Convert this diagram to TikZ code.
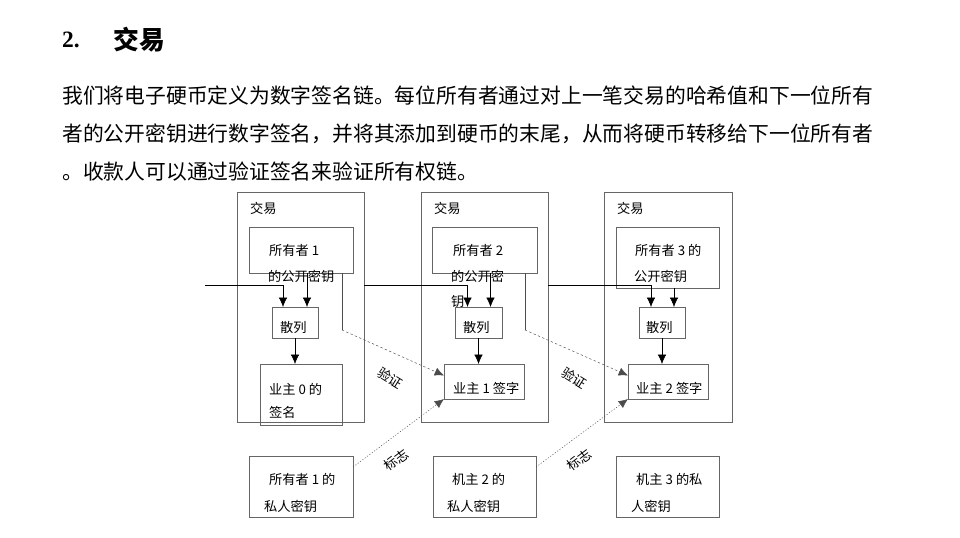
\documentclass[tikz,border=0pt]{standalone}
\usepackage{fontspec}
\setmainfont{Noto Sans CJK SC}
\newfontfamily\headnum{Liberation Serif}
\usetikzlibrary{arrows.meta,calc}

\begin{document}
\begin{tikzpicture}[x=0.03cm, y=-0.03cm, >={Latex[length=0.28cm,width=0.25cm]},
  box/.style={draw=black!60, rectangle, inner sep=0pt, outer sep=0pt},
  txt/.style={anchor=west, inner sep=0pt, font=\fontsize{11.3}{13}\selectfont},
  para/.style={anchor=west, inner sep=0pt, font=\fontsize{17.75}{20}\selectfont},
  verify/.style={draw=black!70, dash pattern=on 2pt off 2pt},
  sign/.style={draw=black!70, dash pattern=on 1pt off 1.5pt}]
\useasboundingbox (0,0) rectangle (960,538);
% heading and text
\node[anchor=west, inner sep=0pt, font=\headnum\bfseries\fontsize{20}{24}\selectfont] (secnum) at (62,40) {2.};
\node[anchor=west, inner sep=0pt, font=\bfseries\fontsize{22}{26}\selectfont] (sectitle) at (113,40) {交易};
\node[para] (line1) at (62,96) {我们将电子硬币定义为数字签名链。每位所有者通过对上一笔交易的哈希值和下一位所有};
\node[para] (line2) at (62,134) {者的公开密钥进行数字签名，并将其添加到硬币的末尾，从而将硬币转移给下一位所有者};
\node[para] (line3) at (62,172) {。收款人可以通过验证签名来验证所有权链。};
% transactions
\node[box, minimum width=3.81cm, minimum height=6.9cm] (t1) at (300.5,307) {};
\node[box, minimum width=3.81cm, minimum height=6.9cm] (t2) at (484.5,307) {};
\node[box, minimum width=3.84cm, minimum height=6.9cm] (t3) at (668,307) {};
\node[txt] (tx1) at (250,208) {交易};
\node[txt] (tx2) at (434,208) {交易};
\node[txt] (tx3) at (617,208) {交易};
% public keys
\node[box, minimum width=3.12cm, minimum height=1.38cm] (pk1) at (301,250) {};
\node[box, minimum width=3.15cm, minimum height=1.38cm] (pk2) at (484.5,250) {};
\node[box, minimum width=3.09cm, minimum height=1.83cm] (pk3) at (667.5,257.5) {};
\node[txt] (pk1a) at (269,250) {所有者\ 1};
\node[txt] (pk1b) at (268,276) {的公开密钥};
\node[txt] (pk2a) at (453,250) {所有者\ 2};
\node[txt] (pk2b) at (451,276) {的公开密};
\node[txt] (pk2c) at (451,302) {钥};
\node[txt] (pk3a) at (635,250) {所有者\ 3\ 的};
\node[txt] (pk3b) at (634,276) {公开密钥};
% hashes
\node[box, minimum width=1.38cm, minimum height=0.93cm] (h1) at (295,322.5) {};
\node[box, minimum width=1.41cm, minimum height=0.93cm] (h2) at (478.5,322.5) {};
\node[box, minimum width=1.38cm, minimum height=0.93cm] (h3) at (662,322.5) {};
\node[txt] (h1t) at (280,327) {散列};
\node[txt] (h2t) at (463,327) {散列};
\node[txt] (h3t) at (646,327) {散列};
% signatures
\node[box, minimum width=2.46cm, minimum height=1.83cm] (s1) at (301,394.5) {};
\node[box, minimum width=2.4cm, minimum height=1.05cm] (s2) at (484,381.5) {};
\node[box, minimum width=2.4cm, minimum height=1.05cm] (s3) at (668,381.5) {};
\node[txt] (s1a) at (269,389) {业主\ 0\ 的};
\node[txt] (s1b) at (269,412) {签名};
\node[txt] (s2t) at (453,388) {业主\ 1\ 签字};
\node[txt] (s3t) at (636,388) {业主\ 2\ 签字};
% private keys
\node[box, minimum width=3.12cm, minimum height=1.83cm] (k1) at (301,486.5) {};
\node[box, minimum width=3.09cm, minimum height=1.83cm] (k2) at (484.5,486.5) {};
\node[box, minimum width=3.09cm, minimum height=1.83cm] (k3) at (667.5,486.5) {};
\node[txt] (k1a) at (269,479) {所有者\ 1\ 的};
\node[txt] (k1b) at (264,506) {私人密钥};
\node[txt] (k2a) at (452,479) {机主\ 2\ 的};
\node[txt] (k2b) at (447,506) {私人密钥};
\node[txt] (k3a) at (636,479) {机主\ 3\ 的私};
\node[txt] (k3b) at (631,506) {人密钥};
% arrow columns
\path (h1.north) ++(-12,0) coordinate (h1l) ++(24,0) coordinate (h1r);
\path (h2.north) ++(-11,0) coordinate (h2l) ++(23,0) coordinate (h2r);
\path (h3.north) ++(-11,0) coordinate (h3l) ++(23,0) coordinate (h3r);
\coordinate (chain) at (205,285);
\draw[->] (chain) -| (h1l);
\draw[->] (t1.east |- chain) -| (h2l);
\draw[->] (t2.east |- chain) -| (h3l);
\draw[->] (h1r |- pk1.south) -- (h1r);
\draw[->] (h2r |- pk2.south) -- (h2r);
\draw[->] (h3r |- pk3.south) -- (h3r);
\draw[->] (h1.south) -- (h1.south |- s1.north);
\draw[->] (h2.south) -- (h2.south |- s2.north);
\draw[->] (h3.south) -- (h3.south |- s3.north);
% verify
\coordinate (v1) at (342,330);
\coordinate (v2) at (525,330);
\draw[black!70] (v1 |- pk1.south) -- (v1);
\draw[black!70] (v2 |- pk2.south) -- (v2);
\draw[verify,->] (v1) -- ($(s2.west)+(0,-6)$);
\draw[verify,->] (v2) -- ($(s3.west)+(0,-6)$);
\node[txt, anchor=center, rotate=-32] (vl1) at (390,378) {验证};
\node[txt, anchor=center, rotate=-32] (vl2) at (574,378) {验证};
% sign
\draw[sign,->] ($(k1.north east)+(0,11)$) -- (s2.south west);
\draw[sign,->] ($(k2.north east)+(0,11)$) -- (s3.south west);
\node[txt, anchor=center, rotate=37] (sl1) at (396,460) {标志};
\node[txt, anchor=center, rotate=37] (sl2) at (579,460) {标志};
\end{tikzpicture}
\end{document}
